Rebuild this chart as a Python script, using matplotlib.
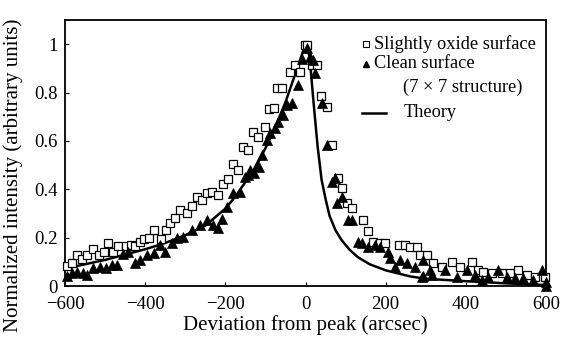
import matplotlib
matplotlib.use("Agg")
import matplotlib.pyplot as plt
from matplotlib.lines import Line2D

plt.rcParams['font.family'] = ['Liberation Serif', 'DejaVu Serif']

# Slightly oxide surface (open squares)
oxide_x = [-596, -583, -569, -557, -544, -529, -515, -504, -492, -480, -467, -448, -436, -425,
           -413, -403, -390, -377, -361, -349, -338, -326, -313, -296, -284, -271, -259, -246,
           -234, -219, -207, -194, -180, -168, -155, -143, -130, -118, -101, -92, -78, -72, -59,
           -39, -26, -14, -1, 4, 15, 28, 38, 53, 65, 81, 91, 104, 115, 144, 157, 169, 186, 198,
           232, 248, 261, 277, 286, 302, 319, 340, 365, 385, 415, 431, 444, 465, 490, 510, 531,
           552, 573, 598]
oxide_y = [0.083, 0.096, 0.128, 0.110, 0.128, 0.152, 0.128, 0.142, 0.176, 0.142, 0.165, 0.165,
           0.169, 0.165, 0.183, 0.193, 0.197, 0.231, 0.193, 0.231, 0.259, 0.282, 0.314, 0.300,
           0.330, 0.369, 0.355, 0.383, 0.390, 0.376, 0.421, 0.442, 0.505, 0.480, 0.576, 0.562,
           0.638, 0.617, 0.658, 0.734, 0.736, 0.817, 0.817, 0.886, 0.913, 0.886, 0.996, 0.996,
           0.913, 0.913, 0.786, 0.741, 0.583, 0.445, 0.404, 0.345, 0.321, 0.273, 0.227, 0.183,
           0.176, 0.176, 0.169, 0.169, 0.162, 0.162, 0.128, 0.128, 0.094, 0.080, 0.100, 0.080,
           0.100, 0.066, 0.059, 0.052, 0.052, 0.052, 0.066, 0.045, 0.038, 0.038]

# Clean surface (7 x 7 structure) (filled triangles)
clean_x = [-596, -583, -569, -556, -544, -529, -513, -498, -484, -471, -455, -442, -425, -413,
           -396, -378, -363, -351, -334, -321, -305, -284, -263, -245, -230, -218, -208, -197,
           -180, -163, -151, -143, -138, -128, -122, -115, -109, -97, -89, -76, -68, -55, -47,
           -34, -18, -8, 3, 11, 19, 24, 40, 53, 65, 74, 78, 90, 107, 115, 132, 140, 157, 173,
           186, 207, 211, 223, 236, 252, 273, 290, 294, 294, 311, 315, 348, 377, 402, 423, 440,
           456, 481, 502, 523, 543, 568, 589, 600, 600]
clean_y = [0.041, 0.052, 0.059, 0.055, 0.045, 0.073, 0.080, 0.073, 0.087, 0.087, 0.131, 0.142,
           0.094, 0.107, 0.128, 0.135, 0.169, 0.142, 0.176, 0.197, 0.204, 0.231, 0.252, 0.273,
           0.252, 0.238, 0.276, 0.328, 0.383, 0.390, 0.452, 0.459, 0.479, 0.466, 0.500, 0.493,
           0.541, 0.603, 0.631, 0.652, 0.679, 0.707, 0.748, 0.755, 0.830, 0.940, 0.985, 0.948,
           0.934, 0.879, 0.755, 0.583, 0.431, 0.445, 0.342, 0.369, 0.273, 0.273, 0.183, 0.176,
           0.162, 0.169, 0.162, 0.142, 0.114, 0.080, 0.107, 0.094, 0.080, 0.038, 0.041, 0.107,
           0.066, 0.045, 0.066, 0.038, 0.066, 0.045, 0.025, 0.038, 0.066, 0.038, 0.032, 0.032,
           0.025, 0.066, 0.018, 0.000]

# Theory curve
theory_x = [-600, -550, -500, -450, -400, -350, -300, -250, -200, -175, -150, -125, -100, -75,
            -50, -25, 0, 10, 20, 30, 40, 50, 60, 75, 90, 110, 130, 160, 200, 260, 300, 400, 500, 600]
theory_y = [0.072, 0.090, 0.108, 0.130, 0.152, 0.178, 0.210, 0.250, 0.320, 0.370, 0.430, 0.490,
            0.570, 0.660, 0.760, 0.880, 1.000, 0.950, 0.760, 0.580, 0.440, 0.360, 0.290, 0.230,
            0.190, 0.150, 0.120, 0.090, 0.065, 0.040, 0.030, 0.020, 0.011, 0.004]

x_ticks = [-600, -400, -200, 0, 200, 400, 600]
x_ticklabels = ['\u2212600', '\u2212400', '\u2212200', '0', '200', '400', '600']
y_ticks = [0, 0.2, 0.4, 0.6, 0.8, 1]
y_ticklabels = ['0', '0.2', '0.4', '0.6', '0.8', '1']

fig = plt.figure(figsize=(5.61, 3.38), dpi=100)
ax = fig.add_axes([0.1159, 0.1538, 0.8574, 0.787])

ax.plot(theory_x, theory_y, color='black', lw=1.8, zorder=2)
ax.plot(oxide_x, oxide_y, linestyle='none', marker='s', ms=6.3, mfc='white', mec='black',
        mew=0.9, zorder=3, clip_on=False)
ax.plot(clean_x, clean_y, linestyle='none', marker='^', ms=6.8, mfc='black', mec='black',
        mew=0.5, zorder=4, clip_on=False)

ax.set_xlim(-600, 600)
ax.set_ylim(0, 1.1)
ax.set_xticks(x_ticks)
ax.set_xticklabels(x_ticklabels)
ax.set_yticks(y_ticks)
ax.set_yticklabels(y_ticklabels)
ax.tick_params(direction='in', length=3, width=0.8, labelsize=13.5)
ax.tick_params(axis='x', pad=7)
ax.tick_params(axis='y', pad=5)
for s in ax.spines.values():
    s.set_linewidth(1.3)

ax.set_xlabel('Deviation from peak (arcsec)', fontsize=15, labelpad=2)
ax.set_ylabel('Normalized intensity (arbitrary units)', fontsize=15)
ax.yaxis.set_label_coords(-0.088, 0.415)

# Legend drawn manually
tr = ax.transAxes
ax.add_line(Line2D([0.626], [0.910], transform=tr, marker='s', ms=4.5, mfc='white',
                   mec='black', mew=0.8, linestyle='none'))
ax.text(0.642, 0.910, 'Slightly oxide surface', transform=tr, fontsize=13.2, va='center')
ax.add_line(Line2D([0.626], [0.835], transform=tr, marker='^', ms=5, mfc='black',
                   mec='black', linestyle='none'))
ax.text(0.642, 0.835, 'Clean surface', transform=tr, fontsize=13.2, va='center')
ax.text(0.703, 0.748, '(7 \u00d7 7 structure)', transform=tr, fontsize=13.2, va='center')
ax.add_line(Line2D([0.617, 0.667], [0.652, 0.652], transform=tr, color='black', lw=1.8))
ax.text(0.703, 0.652, 'Theory', transform=tr, fontsize=13.2, va='center')

fig.savefig('out.png', dpi=100)
